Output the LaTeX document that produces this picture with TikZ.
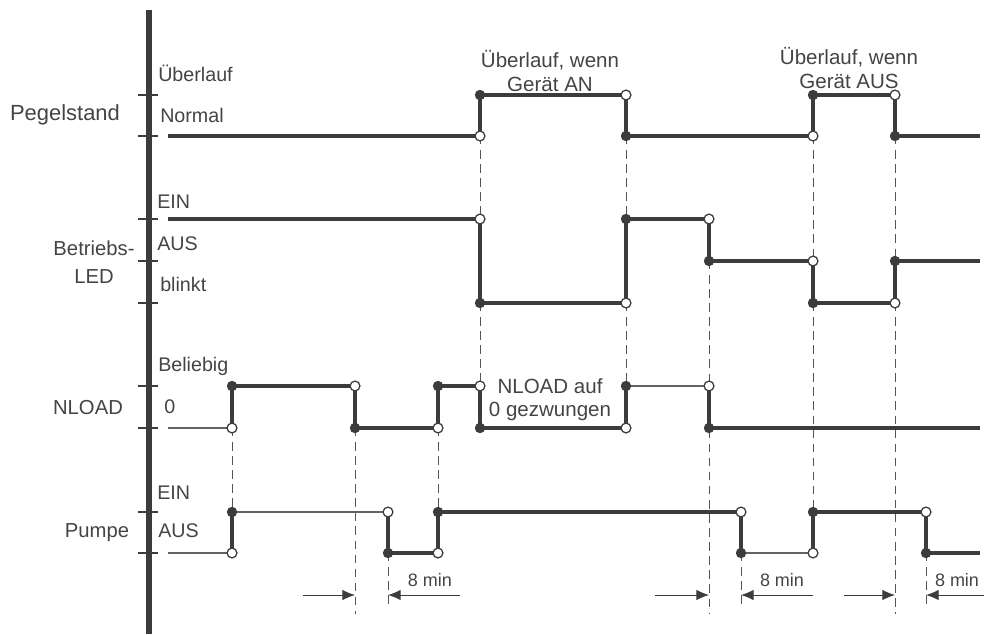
\documentclass[tikz,border=0pt]{standalone}
\usepackage{fontspec}
\setmainfont{Liberation Sans}
\definecolor{signalgray}{RGB}{60,60,60}
\definecolor{labelgray}{RGB}{68,68,68}
\definecolor{guidegray}{RGB}{85,85,85}
\usetikzlibrary{arrows.meta}

\begin{document}
\begin{tikzpicture}[x=0.025cm, y=-0.025cm,
    every node/.style={font=\fontsize{14}{16.5}\selectfont, text=labelgray, inner sep=0pt},
    axisline/.style={line width=3.6pt, signalgray},
    tickmark/.style={line width=0.9pt, signalgray},
    sig/.style={line width=2.2pt, signalgray},
    sigthin/.style={line width=1.3pt, signalgray!80},
    edge/.style={line width=2.9pt, signalgray},
    guide/.style={line width=0.7pt, guidegray, dash pattern=on 6pt off 4pt},
    dimline/.style={line width=0.7pt, signalgray, -{Latex[length=9pt, width=7.5pt]}},
    dotfull/.style={circle, fill=signalgray, minimum size=7.4pt, inner sep=0pt},
    dotopen/.style={circle, draw=signalgray, line width=0.9pt, fill=white, minimum size=7pt, inner sep=0pt},
    level/.style={anchor=west, text height=1.6ex, text depth=0.4ex},
    notetext/.style={align=center, font=\fontsize{14.6}{16.5}\selectfont},
    dimlabel/.style={font=\fontsize{12.8}{15}\selectfont}
]
\useasboundingbox (0,0) rectangle (984,634);

% time axis and level ticks
\draw[axisline] (149,10) -- (149,634);
\foreach \y in {95,136,219,261,303,386,428,512,553}
    \draw[tickmark] (138,\y) -- (158,\y);

% signal names
\node[font=\fontsize{15.6}{18}\selectfont] (pegel) at (65,115) {Pegelstand};
\node[align=center, font=\fontsize{14.4}{20}\selectfont] (led) at (94,262) {Betriebs-\\LED};
\node[font=\fontsize{14.4}{17}\selectfont] (nload) at (88,408) {NLOAD};
\node[font=\fontsize{14.4}{17}\selectfont] (pumpe) at (97,533) {Pumpe};

% level names
\foreach \x/\y/\name in {158/77/Überlauf, 160/118/Normal, 157/204/EIN, 157/246/AUS,
        160/287/blinkt, 158/367/Beliebig, 164/409/0, 157/495/EIN, 158/533/AUS}
    \node[level] (lvl-\y) at (\x,\y) {\name};

% dashed guides between signals
\foreach \x/\ya/\yb in {232/428/512, 355/428/614, 388/553/609, 438/428/512,
        480/136/219, 480/303/386, 626/136/219, 626/303/386, 709/261/614,
        741/553/609, 813/136/261, 813/303/512, 895/136/261, 895/303/614, 926/553/609}
    \draw[guide] (\x,\ya) -- (\x,\yb);

% signal levels
\foreach \xa/\xb/\y in {168/480/136, 480/626/95, 626/813/136, 813/895/95, 895/980/136,
        168/480/219, 480/626/303, 626/709/219, 709/813/261, 813/895/303, 895/980/261,
        232/355/386, 355/438/428, 438/480/386, 480/626/428, 709/980/428,
        388/438/553, 438/741/512, 813/926/512, 926/980/553}
    \draw[sig] (\xa,\y) -- (\xb,\y);
\foreach \xa/\xb/\y in {168/232/428, 626/709/386, 168/232/553, 232/388/512, 741/813/553}
    \draw[sigthin] (\xa,\y) -- (\xb,\y);

% switching edges: open dot = old level, full dot = new level
\foreach \x/\ya/\yb in {480/136/95, 626/95/136, 813/136/95, 895/95/136,
        480/219/303, 626/303/219, 709/219/261, 813/261/303, 895/303/261,
        232/428/386, 355/386/428, 438/428/386, 480/386/428, 626/428/386, 709/386/428,
        232/553/512, 388/512/553, 438/553/512, 741/512/553, 813/553/512, 926/512/553} {
    \draw[edge] (\x,\ya) -- (\x,\yb);
    \node[dotopen] (open-\x-\ya) at (\x,\ya) {};
    \node[dotfull] (full-\x-\yb) at (\x,\yb) {};
}

% notes
\node[notetext] (note-an) at (550,71) {Überlauf, wenn\\Gerät AN};
\node[notetext] (note-aus) at (849,68) {Überlauf, wenn\\Gerät AUS};
\node[notetext] (note-nload) at (550,400) {NLOAD auf\\0 gezwungen};

% 8 min delays
\foreach \xa/\xb in {303/355, 460/388, 655/709, 813/741, 844/895, 984/926}
    \draw[dimline] (\xa,595) -- (\xb,595);
\foreach \x in {430,782,957}
    \node[dimlabel] (delay-\x) at (\x,580) {8 min};
\end{tikzpicture}
\end{document}
